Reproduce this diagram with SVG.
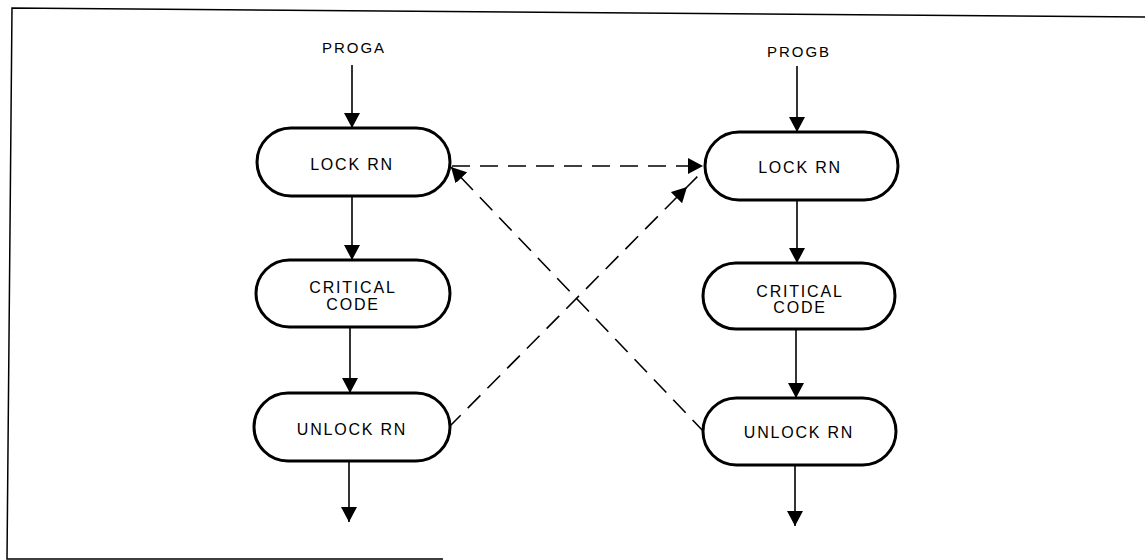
<svg xmlns="http://www.w3.org/2000/svg" width="1145" height="560" viewBox="0 0 1145 560">
<style>
.node{fill:#fff;stroke:#000;stroke-width:3}
.lbl{font-family:"Liberation Sans",Arial,sans-serif;font-size:16px;letter-spacing:1.8px;fill:#000;text-anchor:middle}
.prog{font-family:"Liberation Sans",Arial,sans-serif;font-size:15px;letter-spacing:2px;fill:#000;text-anchor:middle}
.flow{fill:none;stroke:#000;stroke-width:1.6}
.dash{fill:none;stroke:#000;stroke-width:1.6;stroke-dasharray:18 10}
.frame{fill:none;stroke:#000;stroke-width:1.5}
</style>
<defs>
<marker id="ah" markerUnits="userSpaceOnUse" markerWidth="16" markerHeight="16" refX="15" refY="8" orient="auto" viewBox="0 0 16 16">
<path d="M0,0 L15,8 L0,16 z" fill="#000"/>
</marker>
</defs>
<g id="frame">
<path class="frame" d="M1145,17 L12,8 L7,559 L443,559"/>
</g>
<g id="labels">
<text class="prog" x="354" y="53">PROGA</text>
<text class="prog" x="799" y="57">PROGB</text>
</g>
<g id="connectors">
<path class="flow" d="M352,65 L352,128" marker-end="url(#ah)"/>
<path class="flow" d="M352,196 L352,260" marker-end="url(#ah)"/>
<path class="flow" d="M350,327 L350,393" marker-end="url(#ah)"/>
<path class="flow" d="M349,461 L349,522" marker-end="url(#ah)"/>
<path class="flow" d="M797,66 L797,132" marker-end="url(#ah)"/>
<path class="flow" d="M797,200 L797,263" marker-end="url(#ah)"/>
<path class="flow" d="M796,329 L796,398" marker-end="url(#ah)"/>
<path class="flow" d="M795,465 L795,526" marker-end="url(#ah)"/>
<path class="dash" d="M452,166 L703,166" marker-end="url(#ah)"/>
<path class="dash" d="M448,428 L687,187 L703,171" marker-mid="url(#ah)"/>
<path class="dash" d="M705,433 L451,167" marker-end="url(#ah)"/>
</g>
<g id="lockA">
<rect class="node" x="257" y="128" width="193" height="68" rx="34"/>
<text class="lbl" x="352" y="170">LOCK RN</text>
</g>
<g id="criticalA">
<rect class="node" x="256" y="260" width="194" height="67" rx="33.5"/>
<text class="lbl" x="353" y="293">CRITICAL</text>
<text class="lbl" x="353" y="310">CODE</text>
</g>
<g id="unlockA">
<rect class="node" x="254" y="393" width="196" height="68" rx="34"/>
<text class="lbl" x="352" y="435">UNLOCK RN</text>
</g>
<g id="lockB">
<rect class="node" x="705" y="132" width="193" height="68" rx="34"/>
<text class="lbl" x="800" y="173">LOCK RN</text>
</g>
<g id="criticalB">
<rect class="node" x="703" y="263" width="192" height="66" rx="33"/>
<text class="lbl" x="800" y="297">CRITICAL</text>
<text class="lbl" x="800" y="313">CODE</text>
</g>
<g id="unlockB">
<rect class="node" x="703" y="398" width="193" height="67" rx="33.5"/>
<text class="lbl" x="799" y="438">UNLOCK RN</text>
</g>
</svg>
